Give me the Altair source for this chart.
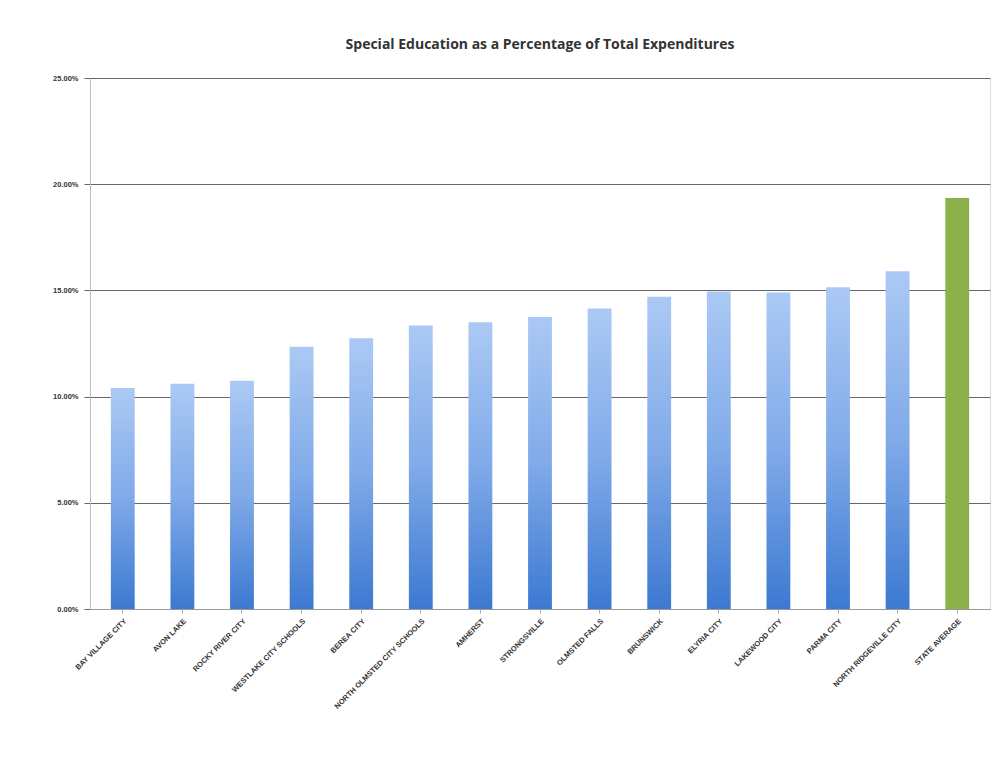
import altair as alt
import pandas as pd

districts = [
    "BAY VILLAGE CITY", "AVON LAKE", "ROCKY RIVER CITY", "WESTLAKE CITY SCHOOLS",
    "BEREA CITY", "NORTH OLMSTED CITY SCHOOLS", "AMHERST", "STRONGSVILLE",
    "OLMSTED FALLS", "BRUNSWICK", "ELYRIA CITY", "LAKEWOOD CITY", "PARMA CITY",
    "NORTH RIDGEVILLE CITY", "STATE AVERAGE",
]
pct = [10.4, 10.6, 10.75, 12.35, 12.75, 13.35, 13.5, 13.75, 14.15, 14.7,
       14.95, 14.9, 15.15, 15.9, 19.35]
kind = ["district"] * 14 + ["state"]

df = pd.DataFrame({"district": districts, "pct": [p / 100 for p in pct], "kind": kind})

x = alt.X("district:N", sort=districts, title=None,
          scale=alt.Scale(paddingInner=0.6, paddingOuter=0.35),
          axis=alt.Axis(labelAngle=-45, labelFontSize=7.5, labelColor="#333",
                        labelFontWeight="bold", grid=False,
                        domainColor="#999", tickColor="#aaa", tickSize=4,
                        labelPadding=4, labelLimit=200))
y = alt.Y("pct:Q", title=None,
          scale=alt.Scale(domain=[0, 0.25]),
          axis=alt.Axis(values=[0, 0.05, 0.10, 0.15, 0.20, 0.25], format=".2%",
                        labelFontSize=7.5, labelColor="#333", labelFontWeight="bold",
                        gridColor="#666", gridWidth=1, domainColor="#bbb",
                        tickColor="#666", tickSize=6, labelPadding=6))

blue = alt.Gradient(gradient="linear", x1=0, y1=0, x2=0, y2=1,
                    stops=[alt.GradientStop(color="#abc9f4", offset=0),
                           alt.GradientStop(color="#80aae9", offset=0.5),
                           alt.GradientStop(color="#3c79d1", offset=1)])

base = alt.Chart(df).encode(x=x, y=y)
bars_blue = base.transform_filter(alt.datum.kind == "district").mark_bar(color=blue)
bars_green = base.transform_filter(alt.datum.kind == "state").mark_bar(color="#8db14a")

chart = alt.layer(bars_blue, bars_green).properties(
    width=900, height=531,
    padding={"left": 44, "top": 30, "right": 5, "bottom": 5},
    title=alt.TitleParams("Special Education as a Percentage of Total Expenditures",
                          fontSize=14, font="Open Sans", fontWeight="bold",
                          color="#333", offset=22),
).configure_view(stroke="transparent", strokeWidth=0).configure(background="white")

chart.save("out.html", embed_options={"renderer": "svg", "actions": False})
